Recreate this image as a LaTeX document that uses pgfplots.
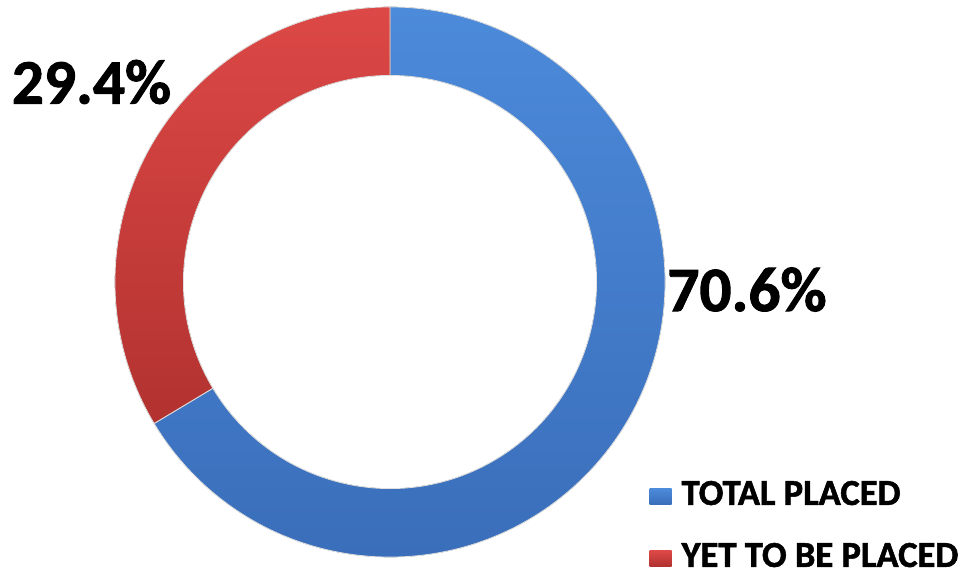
\documentclass[border=0pt]{standalone}
\usepackage{pgfplots}
\pgfplotsset{compat=1.18}
\usepackage{fontspec}
\setmainfont{Carlito}[BoldFeatures={FakeBold=1.5}]
\definecolor{bluetop}{RGB}{76,138,218}
\definecolor{bluebot}{RGB}{58,110,186}
\definecolor{redtop}{RGB}{220,72,70}
\definecolor{redbot}{RGB}{178,50,48}
\begin{document}
\begin{tikzpicture}
% shares of the ring as drawn (percent)
\def\placed{66.4}
\def\yet{33.6}
\pgfmathsetmacro{\split}{90+\yet*3.6}
\pgfmathsetmacro{\splitb}{90-\placed*3.6}
\begin{axis}[x=0.025cm, y=0.025cm,
  xmin=-390, xmax=582, ymin=-286, ymax=282,
  hide axis, clip=false,
  legend style={at={(axis description cs:0.668,0.1623)}, anchor=north west,
    draw=none, fill=none, inner sep=0pt,
    font=\bfseries\fontsize{26}{26}\selectfont,
    row sep=0.73cm, legend cell align=left,
    nodes={text height=0.62cm, text depth=0cm, inner sep=0.1cm}},
]
\path (rel axis cs:0,0) rectangle (rel axis cs:1,1);
\begin{scope}[shift={(axis cs:0,0)}]
  \filldraw[draw=white!75!gray, line width=0.6pt, top color=bluetop, bottom color=bluebot]
    (90:6.875cm) arc[start angle=90, end angle=\splitb, radius=6.875cm]
    -- (\splitb:5.1625cm) arc[start angle=\splitb, end angle=90, radius=5.1625cm] -- cycle;
  \filldraw[draw=white!75!gray, line width=0.6pt, top color=redtop, bottom color=redbot]
    (90:6.875cm) arc[start angle=90, end angle=\split, radius=6.875cm]
    -- (\split:5.1625cm) arc[start angle=\split, end angle=90, radius=5.1625cm] -- cycle;
\end{scope}
\node[font=\bfseries\fontsize{45}{45}\selectfont] at (axis cs:-298.5,200) {29.4\%};
\node[font=\bfseries\fontsize{45}{45}\selectfont] at (axis cs:357,-7.5) {70.6\%};
\addlegendimage{legend image code/.code={\path[draw=none, fill=none] (0cm,0cm) rectangle (0.7cm,0.01cm); \fill[draw=none, top color=bluetop, bottom color=bluebot] (0cm,-0.29cm) rectangle (0.55cm,0.09cm);}}
\addlegendentry{TOTAL PLACED}
\addlegendimage{legend image code/.code={\path[draw=none, fill=none] (0cm,0cm) rectangle (0.7cm,0.01cm); \fill[draw=none, top color=redtop, bottom color=redbot] (0cm,-0.29cm) rectangle (0.55cm,0.09cm);}}
\addlegendentry{YET TO BE PLACED}
\end{axis}
\end{tikzpicture}
\end{document}
